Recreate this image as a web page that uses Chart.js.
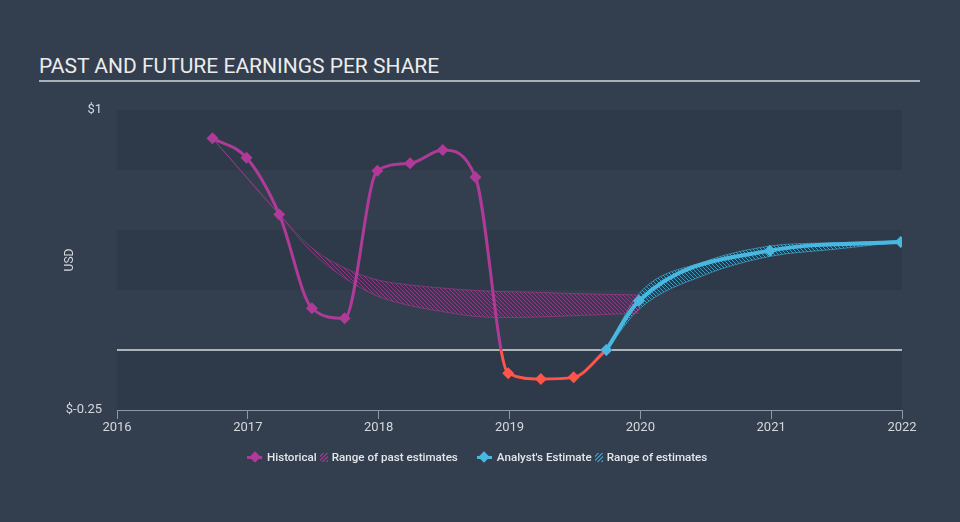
<!DOCTYPE html>
<html>
<head>
<meta charset="utf-8">
<script src="https://cdn.jsdelivr.net/npm/chart.js@4.4.1/dist/chart.umd.min.js"></script>
<style>
  html, body { margin: 0; padding: 0; background: #333f4f; }
  #wrap { position: relative; width: 960px; height: 522px; overflow: hidden; font-family: Roboto, "Noto Sans", sans-serif; }
  #title { position: absolute; left: 39px; top: 54px; font-size: 21px; color: #ececec; letter-spacing: 0; white-space: nowrap; }
  #rule { position: absolute; left: 39px; top: 80px; width: 881px; height: 2px; background: #aab0b8; }
  canvas { position: absolute; left: 0; top: 0; }
  #legend { position: absolute; left: 247px; top: 449px; height: 16px; display: flex; align-items: center; font-size: 11.6px; font-weight: 500; color: #e4e6ea; white-space: nowrap; }
  .mk { position: relative; width: 15px; height: 16px; margin-right: 5px; }
  .mk::before { content: ""; position: absolute; left: 0; top: 6.5px; width: 15px; height: 3px; }
  .mk::after { content: ""; position: absolute; left: 3.5px; top: 4px; width: 8px; height: 8px; transform: rotate(45deg); }
  .mk.hist::before, .mk.hist::after { background: #b03a98; }
  .mk.est::before, .mk.est::after { background: #48b8e0; }
  .hatch { width: 8px; height: 9px; margin: 0 4px 0 3px; }
  .hatch.hist { background: repeating-linear-gradient(135deg, transparent 0 1.5px, #8e3b86 1.5px 3px); }
  .hatch.est { background: repeating-linear-gradient(135deg, transparent 0 1.5px, #3e8fb5 1.5px 3px); }
  .gap { width: 19px; }
</style>
</head>
<body>
<div id="wrap">
  <div id="title">PAST AND FUTURE EARNINGS PER SHARE</div>
  <div id="rule"></div>
  <canvas id="c" width="960" height="522"></canvas>
  <div id="legend">
    <span class="mk hist"></span><span>Historical</span>
    <span class="hatch hist"></span><span>Range of past estimates</span>
    <span class="gap"></span>
    <span class="mk est"></span><span>Analyst's Estimate</span>
    <span class="hatch est"></span><span>Range of estimates</span>
  </div>
</div>
<script>
// ---- data ----
const histX   = [2016.73, 2016.99, 2017.24, 2017.49, 2017.74, 2017.99, 2018.24, 2018.49, 2018.74, 2018.99, 2019.24, 2019.49, 2019.74];
const histEPS = [0.882, 0.801, 0.565, 0.174, 0.132, 0.747, 0.778, 0.833, 0.720, -0.097, -0.121, -0.114, 0.0];

const estX   = [2019.74, 2019.99, 2020.99, 2021.99];
const estEPS = [0.0, 0.205, 0.414, 0.450];

const pastRangeX    = [2016.73, 2017.24, 2017.49, 2017.74, 2017.99, 2018.24, 2018.49, 2018.74, 2018.99, 2019.24, 2019.49, 2019.74, 2019.99];
const pastRangeHigh = [0.882, 0.565, 0.425, 0.342, 0.292, 0.271, 0.258, 0.248, 0.243, 0.240, 0.235, 0.232, 0.229];
const pastRangeLow  = [0.882, 0.565, 0.408, 0.300, 0.225, 0.185, 0.160, 0.140, 0.135, 0.138, 0.143, 0.148, 0.154];

const estRangeX    = [2019.74, 2019.99, 2020.49, 2020.99, 2021.49, 2021.99];
const estRangeHigh = [0.0, 0.235, 0.368, 0.433, 0.447, 0.455];
const estRangeLow  = [0.0, 0.170, 0.312, 0.390, 0.420, 0.450];

const yearTicks = [2016, 2017, 2018, 2019, 2020, 2021, 2022];
const yTickValues = [-0.25, 1];
const bandEdges = [1, 0.75, 0.5, 0.25, 0, -0.25];

// ---- styles ----
const MAGENTA = '#b03a98';
const RED = '#ff5449';
const BLUE = '#48b8e0';

function pts(xs, ys) { return xs.map((x, i) => ({ x: x, y: ys[i] })); }

function hatch(color) {
  const c = document.createElement('canvas');
  c.width = 4; c.height = 4;
  const g = c.getContext('2d');
  g.strokeStyle = color; g.lineWidth = 1;
  g.beginPath();
  g.moveTo(0, 0); g.lineTo(4, 4);
  g.moveTo(-1, 3); g.lineTo(1, 5);
  g.moveTo(3, -1); g.lineTo(5, 1);
  g.stroke();
  return g.createPattern(c, 'repeat');
}

const bgPlugin = {
  id: 'bands',
  beforeDraw(chart) {
    const { ctx, chartArea: a, scales: { y } } = chart;
    ctx.save();
    for (let i = 0; i < bandEdges.length - 1; i += 2) {
      const t = y.getPixelForValue(bandEdges[i]);
      const b = y.getPixelForValue(bandEdges[i + 1]);
      ctx.fillStyle = '#2e3a4a';
      ctx.fillRect(a.left, t, a.right - a.left, b - t);
    }
    ctx.restore();
  },
  beforeDatasetsDraw(chart) {
    const { ctx, chartArea: a, scales: { y } } = chart;
    const z = y.getPixelForValue(0);
    ctx.save();
    ctx.strokeStyle = '#d8dbe0';
    ctx.lineWidth = 1.3;
    ctx.beginPath();
    ctx.moveTo(a.left, z); ctx.lineTo(a.right, z);
    ctx.stroke();
    ctx.restore();
  }
};

function histColor(ctx) {
  const chart = ctx.chart;
  const a = chart.chartArea;
  if (!a) return MAGENTA;
  const z = chart.scales.y.getPixelForValue(0);
  const g = chart.ctx.createLinearGradient(0, a.top, 0, a.bottom);
  const s = Math.min(1, Math.max(0, (z - a.top) / (a.bottom - a.top)));
  g.addColorStop(0, MAGENTA); g.addColorStop(s, MAGENTA);
  g.addColorStop(s, RED); g.addColorStop(1, RED);
  return g;
}

const histPointColors = histEPS.map(v => v < 0 ? RED : MAGENTA);

new Chart(document.getElementById('c'), {
  type: 'line',
  data: {
    datasets: [
      {
        label: "Analyst's Estimate",
        data: pts(estX, estEPS),
        borderColor: BLUE, borderWidth: 4,
        pointStyle: 'rectRot', pointRadius: 6, pointBackgroundColor: BLUE, pointBorderColor: BLUE, pointBorderWidth: 0,
        cubicInterpolationMode: 'monotone', fill: false, order: 0
      },
      {
        label: 'Historical',
        data: pts(histX, histEPS),
        borderColor: histColor, borderWidth: 3,
        pointStyle: 'rectRot', pointRadius: 6, pointBackgroundColor: histPointColors, pointBorderColor: histPointColors, pointBorderWidth: 0,
        cubicInterpolationMode: 'monotone', fill: false, order: 1
      },
      {
        label: 'Range of past estimates high',
        data: pts(pastRangeX, pastRangeHigh),
        borderColor: 'rgba(176,58,152,0.55)', borderWidth: 1, pointRadius: 0,
        backgroundColor: hatch('rgba(176,58,152,0.75)'),
        cubicInterpolationMode: 'monotone', fill: '+1', order: 2
      },
      {
        label: 'Range of past estimates low',
        data: pts(pastRangeX, pastRangeLow),
        borderColor: 'rgba(176,58,152,0.55)', borderWidth: 1, pointRadius: 0,
        cubicInterpolationMode: 'monotone', fill: false, order: 2
      },
      {
        label: 'Range of estimates high',
        data: pts(estRangeX, estRangeHigh),
        borderColor: 'rgba(72,184,224,0.6)', borderWidth: 1, pointRadius: 0,
        backgroundColor: hatch('rgba(72,184,224,0.8)'),
        cubicInterpolationMode: 'monotone', fill: '+1', order: 2
      },
      {
        label: 'Range of estimates low',
        data: pts(estRangeX, estRangeLow),
        borderColor: 'rgba(72,184,224,0.6)', borderWidth: 1, pointRadius: 0,
        cubicInterpolationMode: 'monotone', fill: false, order: 2
      }
    ]
  },
  options: {
    responsive: false,
    animation: false,
    layout: { padding: { left: 59, right: 58, top: 110, bottom: 82 } },
    plugins: { legend: { display: false }, tooltip: { enabled: false }, title: { display: false } },
    scales: {
      x: {
        type: 'linear', min: 2016, max: 2022,
        afterBuildTicks(s) { s.ticks = yearTicks.map(v => ({ value: v })); },
        afterFit(s) { s.height = 30; },
        ticks: { color: '#d4d8dd', font: { family: 'Roboto', size: 13 }, padding: 1, maxRotation: 0, callback: v => String(v) },
        grid: { display: true, drawOnChartArea: false, drawTicks: true, tickLength: 9, color: '#8e98a4', lineWidth: 1 },
        border: { display: true, color: '#8e98a4', width: 1 }
      },
      y: {
        type: 'linear', min: -0.25, max: 1,
        afterBuildTicks(s) { s.ticks = yTickValues.map(v => ({ value: v })); },
        afterFit(s) { s.width = 58; },
        ticks: { color: '#d4d8dd', font: { family: 'Roboto', size: 13 }, padding: 15, callback: v => '$' + v },
        grid: { display: false, drawTicks: false },
        border: { display: false },
        title: { display: true, text: 'USD', color: '#d4d8dd', font: { family: 'Roboto', size: 12 }, padding: { top: 4, bottom: 4 } }
      }
    }
  },
  plugins: [bgPlugin]
});
</script>
</body>
</html>
